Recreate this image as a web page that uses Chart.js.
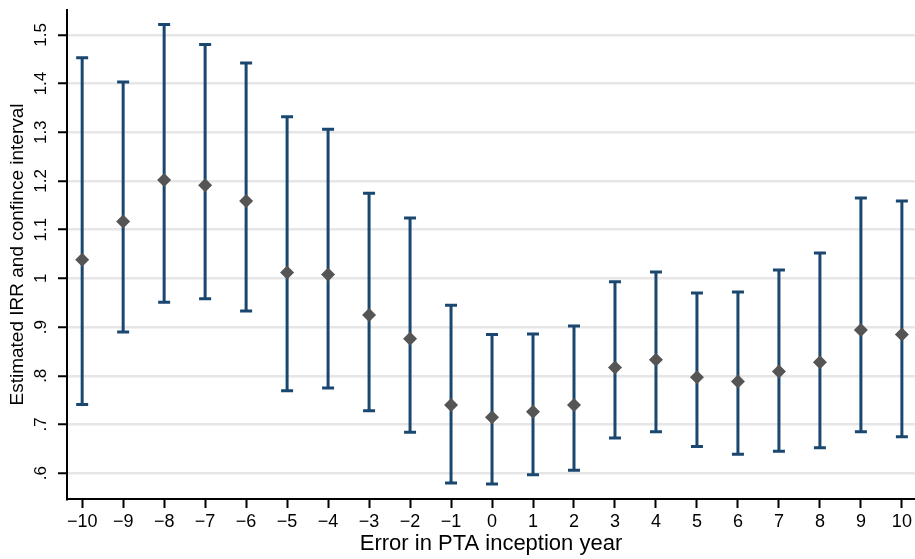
<!DOCTYPE html>
<html>
<head>
<meta charset="utf-8">
<script src="https://cdn.jsdelivr.net/npm/chart.js@4.4.1/dist/chart.umd.min.js"></script>
<style>
  html, body { margin: 0; padding: 0; background: #fff; }
  #wrap { width: 915px; height: 559px; }
</style>
</head>
<body>
<div id="wrap"><canvas id="irrChart"></canvas></div>
<script>
const years = [-10, -9, -8, -7, -6, -5, -4, -3, -2, -1, 0, 1, 2, 3, 4, 5, 6, 7, 8, 9, 10];
const irr = [1.038, 1.117, 1.202, 1.191, 1.159, 1.012, 1.008, 0.925, 0.876, 0.740, 0.715, 0.726, 0.740, 0.817, 0.833, 0.797, 0.788, 0.809, 0.828, 0.894, 0.885];
const ciLow = [0.741, 0.890, 0.951, 0.958, 0.933, 0.769, 0.775, 0.728, 0.684, 0.580, 0.578, 0.597, 0.606, 0.672, 0.685, 0.655, 0.639, 0.645, 0.652, 0.685, 0.675];
const ciHigh = [1.453, 1.403, 1.521, 1.480, 1.442, 1.332, 1.306, 1.175, 1.124, 0.945, 0.885, 0.886, 0.902, 0.993, 1.013, 0.970, 0.972, 1.017, 1.052, 1.165, 1.159];
const yTicks = [0.6, 0.7, 0.8, 0.9, 1.0, 1.1, 1.2, 1.3, 1.4, 1.5];
const yTickLabels = ['.6', '.7', '.8', '.9', '1', '1.1', '1.2', '1.3', '1.4', '1.5'];

const FONT = '"Liberation Sans", Arial, Helvetica, sans-serif';
const BAR_COLOR = '#1a476f';

// error bars + rotated y tick labels
const errorBars = {
  id: 'errorBars',
  beforeDatasetsDraw(chart) {
    const { ctx, scales: { x, y } } = chart;
    ctx.save();
    ctx.strokeStyle = BAR_COLOR;
    ctx.lineWidth = 3;
    years.forEach((yr, i) => {
      const px = x.getPixelForValue(yr);
      const top = y.getPixelForValue(ciHigh[i]);
      const bot = y.getPixelForValue(ciLow[i]);
      ctx.beginPath();
      ctx.moveTo(px, top);
      ctx.lineTo(px, bot);
      ctx.moveTo(px - 6, top);
      ctx.lineTo(px + 6, top);
      ctx.moveTo(px - 6, bot);
      ctx.lineTo(px + 6, bot);
      ctx.stroke();
    });
    ctx.restore();
  },
  afterDraw(chart) {
    const { ctx, scales: { y } } = chart;
    ctx.save();
    ctx.fillStyle = '#000';
    ctx.font = '17px ' + FONT;
    ctx.textAlign = 'center';
    ctx.textBaseline = 'middle';
    yTicks.forEach((v, i) => {
      ctx.save();
      ctx.translate(41, y.getPixelForValue(v));
      ctx.rotate(-Math.PI / 2);
      ctx.fillText(yTickLabels[i], 0, 0);
      ctx.restore();
    });
    ctx.restore();
  },
};

new Chart(document.getElementById('irrChart'), {
  type: 'scatter',
  data: {
    datasets: [
      {
        label: 'IRR',
        data: years.map((yr, i) => ({ x: yr, y: irr[i] })),
        pointStyle: 'rectRot',
        pointRadius: 7,
        pointBackgroundColor: '#555555',
        pointBorderWidth: 0,
        pointBorderColor: '#555555',
      },
    ],
  },
  options: {
    responsive: true,
    maintainAspectRatio: false,
    animation: false,
    devicePixelRatio: 1,
    layout: {
      autoPadding: false, // plot runs to the right edge like the original
      padding: { top: 10, right: 0, bottom: 0, left: 0 },
    },
    plugins: {
      legend: { display: false },
      tooltip: { enabled: false },
    },
    scales: {
      x: {
        type: 'linear',
        min: -10.37,
        max: 10.32,
        afterBuildTicks: (s) => {
          s.ticks = years.map((v) => ({ value: v }));
        },
        afterFit: (s) => {
          s.height = 60;
        },
        ticks: {
          autoSkip: false,
          maxRotation: 0,
          padding: 3,
          color: '#000',
          font: { family: FONT, size: 18 },
          callback: (v) => String(v).replace('-', '\u2212'),
        },
        grid: {
          drawOnChartArea: false,
          tickLength: 9,
          tickColor: '#000',
          tickWidth: 2,
        },
        border: { color: '#000', width: 2 },
        title: {
          display: true,
          text: 'Error in PTA inception year',
          color: '#000',
          font: { family: FONT, size: 22 },
          padding: { top: 0, bottom: 2 },
        },
      },
      y: {
        min: 0.547,
        max: 1.551,
        afterBuildTicks: (s) => {
          s.ticks = yTicks.map((v) => ({ value: v }));
        },
        afterFit: (s) => {
          s.width = 67;
        },
        ticks: { display: false },
        grid: {
          color: '#e6e6e6',
          lineWidth: 2.5,
          tickLength: 9,
          tickColor: '#000',
          tickWidth: 2,
        },
        border: { color: '#000', width: 2 },
        title: {
          display: true,
          text: 'Estimated IRR and confince interval',
          color: '#000',
          font: { family: FONT, size: 19 },
          padding: { top: 6, bottom: 0 },
        },
      },
    },
  },
  plugins: [errorBars],
});
</script>
</body>
</html>
